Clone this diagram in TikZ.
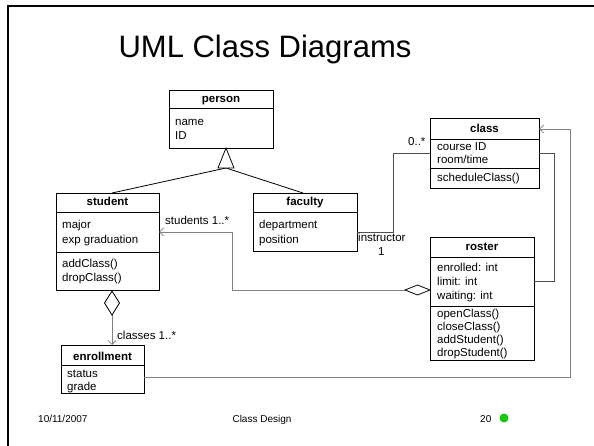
\documentclass[tikz,border=0pt]{standalone}
\usepackage{fontspec}
\setmainfont{Liberation Sans}
\usetikzlibrary{arrows.meta,calc}
\definecolor{dkline}{RGB}{80,80,80}
\definecolor{ltline}{RGB}{130,130,130}
\definecolor{dotgreen}{RGB}{20,200,20}
\tikzset{
  cls/.style={draw=black, line width=0.8pt, fill=white, inner sep=0pt, anchor=north west},
  divline/.style={draw=black, line width=0.8pt},
  txt/.style={anchor=base west, inner sep=0pt, font=\fontsize{11.5}{13}\selectfont},
  hdr/.style={anchor=base, inner sep=0pt, font=\fontsize{11.5}{13}\selectfont\bfseries},
  lbl/.style={anchor=base west, inner sep=0pt, font=\fontsize{11.5}{13}\selectfont},
  assoc/.style={draw=dkline, line width=0.8pt},
  navassoc/.style={draw=ltline, line width=0.8pt, -{Straight Barb[length=4pt,width=8pt]}},
  gen/.style={draw=black, line width=0.8pt},
  aggr/.style={draw=black, line width=0.8pt, fill=white},
  foot/.style={inner sep=0pt, font=\fontsize{10}{12}\selectfont},
}
\begin{document}
\begin{tikzpicture}[x=1pt,y=-1pt]
\useasboundingbox (0,0) rectangle (594,446);
% slide frame
\draw[line width=2.2pt] (594,6) -- (8,6) -- (8,446);
% title
\node[inner sep=0pt, anchor=base, font=\fontsize{31}{36}\selectfont] (title) at (265,58) {UML Class Diagrams};

% person
\node[cls, minimum width=104pt, minimum height=58pt] (person) at (169,90) {};
\draw[divline] ($(person.north west)+(0,18)$) -- ($(person.north east)+(0,18)$);
\node[hdr] (person-h) at (221,103) {person};
\node[txt] (person-a1) at (175,126) {name};
\node[txt] (person-a2) at (175,140) {ID};

% student
\node[cls, minimum width=103pt, minimum height=97pt] (student) at (56,193) {};
\draw[divline] ($(student.north west)+(0,19)$) -- ($(student.north east)+(0,19)$);
\draw[divline] ($(student.north west)+(0,59)$) -- ($(student.north east)+(0,59)$);
\node[hdr] (student-h) at (107.5,206) {student};
\node[txt] (student-a1) at (62,229) {major};
\node[txt] (student-a2) at (62,244) {exp graduation};
\node[txt] (student-m1) at (62,268) {addClass()};
\node[txt] (student-m2) at (62,282) {dropClass()};

% faculty
\node[cls, minimum width=104pt, minimum height=58pt] (faculty) at (253,193) {};
\draw[divline] ($(faculty.north west)+(0,19)$) -- ($(faculty.north east)+(0,19)$);
\node[hdr] (faculty-h) at (305,206) {faculty};
\node[txt] (faculty-a1) at (259,229) {department};
\node[txt] (faculty-a2) at (259,244) {position};

% class
\node[cls, minimum width=109pt, minimum height=70pt] (class) at (430,118) {};
\draw[divline] ($(class.north west)+(0,21)$) -- ($(class.north east)+(0,21)$);
\draw[divline] ($(class.north west)+(0,50)$) -- ($(class.north east)+(0,50)$);
\node[hdr] (class-h) at (484.5,133) {class};
\node[txt] (class-a1) at (437,151) {course ID};
\node[txt] (class-a2) at (437,164) {room/time};
\node[txt] (class-m1) at (437,182) {scheduleClass()};

% roster
\node[cls, minimum width=104pt, minimum height=123pt] (roster) at (430,237) {};
\draw[divline] ($(roster.north west)+(0,20)$) -- ($(roster.north east)+(0,20)$);
\draw[divline] ($(roster.north west)+(0,69)$) -- ($(roster.north east)+(0,69)$);
\node[hdr] (roster-h) at (482,251) {roster};
\node[txt] (roster-a1) at (437,272) {enrolled: int};
\node[txt] (roster-a2) at (437,286) {limit: int};
\node[txt] (roster-a3) at (437,299) {waiting: int};
\node[txt] (roster-m1) at (437,317) {openClass()};
\node[txt] (roster-m2) at (437,330) {closeClass()};
\node[txt] (roster-m3) at (437,343) {addStudent()};
\node[txt] (roster-m4) at (437,356) {dropStudent()};

% enrollment
\node[cls, minimum width=83pt, minimum height=48pt] (enrollment) at (61,345) {};
\draw[divline] ($(enrollment.north west)+(0,20)$) -- ($(enrollment.north east)+(0,20)$);
\node[hdr] (enrollment-h) at (102.5,360) {enrollment};
\node[txt] (enrollment-a1) at (67,377) {status};
\node[txt] (enrollment-a2) at (67,390) {grade};

% generalization
\coordinate (gen-apex) at (226,148);
\coordinate (gen-base) at (226,168);
\coordinate (stu-top) at (112,193);
\coordinate (fac-top) at (303,193);
\draw[gen] (gen-base) -- (stu-top);
\draw[gen] (gen-base) -- (fac-top);
\draw[gen, fill=white] (gen-apex) -- (218,168) -- (234,168) -- cycle;

% faculty - class
\coordinate (fac-r) at (357,232);
\coordinate (fc1) at (393,232);
\coordinate (fc2) at (393,153);
\coordinate (cls-l) at (430,153);
\draw[assoc] (fac-r) -- (fc1) -- (fc2) -- (cls-l);
\node[lbl] (l-instr) at (358,242) {instructor};
\node[lbl] (l-one) at (378,255) {1};
\node[lbl] (l-zero) at (408,146) {0..*};

% class - roster
\coordinate (cls-r) at (539,153);
\coordinate (cr1) at (554,153);
\coordinate (cr2) at (554,281);
\coordinate (ros-r) at (534,281);
\draw[assoc] (cls-r) -- (cr1) -- (cr2) -- (ros-r);

% roster - student (aggregation)
\coordinate (rd-l) at (405,290);
\coordinate (rs1) at (232,290);
\coordinate (rs2) at (232,232);
\coordinate (stu-r) at (159,232);
\draw[navassoc] (rd-l) -- (rs1) -- (rs2) -- (stu-r);
\draw[aggr] (rd-l) -- (417.5,285) -- (430,290) -- (417.5,295) -- cycle;
\node[lbl] (l-students) at (165,225) {students 1..*};

% student - enrollment (aggregation)
\coordinate (sd-b) at (112,315);
\coordinate (enr-top) at (112,345);
\draw[navassoc] (sd-b) -- (enr-top);
\draw[aggr] (112,291) -- (119.5,303) -- (sd-b) -- (104.5,303) -- cycle;
\node[lbl] (l-classes) at (117,339) {classes 1..*};

% enrollment - class
\coordinate (enr-r) at (144,377);
\coordinate (ec1) at (570,377);
\coordinate (ec2) at (570,129);
\coordinate (cls-r2) at (539,129);
\draw[navassoc] (enr-r) -- (ec1) -- (ec2) -- (cls-r2);

% footer
\node[foot, anchor=base west] (f-date) at (38,422) {10/11/2007};
\node[foot, anchor=base] (f-title) at (262,422) {Class Design};
\node[foot, anchor=base west] (f-page) at (480,422) {20};
\node[circle, fill=dotgreen, minimum size=9pt, inner sep=0pt] (f-dot) at (504,418) {};
\end{tikzpicture}
\end{document}
